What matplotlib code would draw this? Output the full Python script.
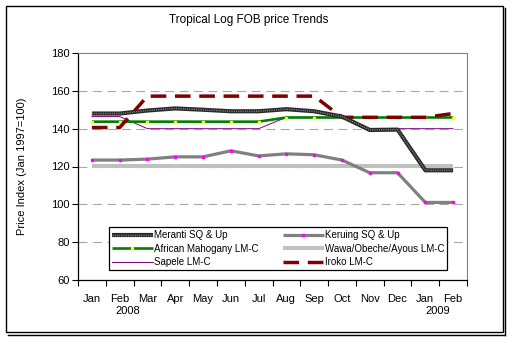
import matplotlib
matplotlib.use("Agg")
import matplotlib.pyplot as plt
from matplotlib.legend_handler import HandlerTuple
from matplotlib.patches import Rectangle
from matplotlib.lines import Line2D

plt.rcParams['font.family'] = ['Liberation Sans', 'DejaVu Sans']

months = ["Jan", "Feb", "Mar", "Apr", "May", "Jun", "Jul", "Aug", "Sep", "Oct", "Nov", "Dec", "Jan", "Feb"]
years = ["2008", "2009"]

meranti = [148, 148, 149.6, 150.7, 150, 149.2, 149.2, 150.3, 149.2, 146.4, 139.3, 139.5, 118, 118]
keruing = [123.4, 123.4, 123.9, 125.1, 125.1, 128.3, 125.6, 126.7, 126.2, 123.4, 116.7, 116.7, 101, 101]
mahogany = [143.7, 143.7, 143.7, 143.7, 143.7, 143.7, 143.7, 145.9, 145.9, 145.9, 145.9, 145.9, 145.9, 145.9]
wawa = [120.5] * 14
sapele = [146.4, 146.4, 140, 140, 140, 140, 140, 146, 146, 146, 140, 140, 140, 140]
iroko = [140.6, 140.6, 157.2, 157.2, 157.2, 157.2, 157.2, 157.2, 157.2, 146, 146, 146, 146, 148]

fig = plt.figure(figsize=(5.29, 3.43), dpi=100)
ax = fig.add_axes([78/529, 1-280/343, (467-78)/529, (280-53)/343])

x = list(range(len(months)))

l_wawa, = ax.plot(x, wawa, color='#C0C0C0', lw=2.9, zorder=2, solid_capstyle='butt')
l_ker, = ax.plot(x, keruing, color='#808080', lw=2.3, zorder=3, marker='s', ms=1.4,
                 mfc='#FF00FF', mec='#FF00FF', solid_capstyle='butt')
l_sap, = ax.plot(x, sapele, color='#800080', lw=0.7, zorder=3)
l_mah, = ax.plot(x, mahogany, color='#008000', lw=1.9, zorder=4, marker='s', ms=1.4,
                 mfc='#FFFF00', mec='#FFFF00', solid_capstyle='butt')
l_iro, = ax.plot(x, iroko, color='#800000', lw=2.5, zorder=5, linestyle=(0, (4.5, 2.5)))
l_mer1, = ax.plot(x, meranti, color='#2a2a2a', lw=3.0, zorder=6, solid_capstyle='butt')
l_mer2, = ax.plot(x, meranti, color='#8a8a8a', lw=1.0, zorder=7, linestyle=(0, (0.7, 0.9)))

ax.set_xlim(-0.5, len(months) - 0.5)
ax.set_ylim(60, 180)
ax.set_yticks(range(60, 181, 20))
ax.set_xticks(x)
ax.set_xticklabels(months)
ax.set_xticks([i - 0.5 for i in range(len(months) + 1)], minor=True)
ax.tick_params(axis='x', which='major', length=0, pad=10, labelsize=8)
ax.tick_params(axis='x', which='minor', length=4, direction='out', width=0.8)
ax.tick_params(axis='y', length=4, direction='out', width=0.8, labelsize=8, pad=2)

for v in range(80, 180, 20):
    ax.axhline(v, color='#A8A8A8', lw=0.8, linestyle=(0, (8, 5)), zorder=1)

for s in ['left', 'bottom']:
    ax.spines[s].set_color('black')
    ax.spines[s].set_linewidth(0.9)
for s in ['top', 'right']:
    ax.spines[s].set_color('#808080')
    ax.spines[s].set_linewidth(0.8)

# year labels
fig.text(128/529, 1-311.5/343, years[0], ha='center', va='center', fontsize=8)
fig.text(438/529, 1-311.5/343, years[1], ha='center', va='center', fontsize=8)

fig.text(249/529, 1-20.5/343, "Tropical Log FOB price Trends", ha='center', va='center', fontsize=8.5)
fig.text(22/529, 1-166/343, "Price Index (Jan 1997=100)", rotation=90, ha='center', va='center', fontsize=8)

# legend filled column-wise, so order gives rows: Meranti|Keruing, Mahogany|Wawa, Sapele|Iroko
handles = [(l_mer1, l_mer2), l_mah, l_sap, l_ker, l_wawa, l_iro]
labels = ["Meranti SQ & Up", "African Mahogany LM-C", "Sapele LM-C",
          "Keruing SQ & Up", "Wawa/Obeche/Ayous LM-C", "Iroko LM-C"]
leg = fig.legend(handles, labels, loc='lower left',
                 bbox_to_anchor=(109/529, 1-270/343, (447-109)/529, (270-223)/343),
                 mode='expand', ncol=2, fontsize=7, frameon=True, fancybox=False,
                 edgecolor='black', framealpha=1, handlelength=4.2, handletextpad=0.1,
                 borderaxespad=0, borderpad=0.3, labelspacing=0.35, columnspacing=1.0,
                 handler_map={tuple: HandlerTuple(ndivide=1, pad=0)})
leg.get_frame().set_linewidth(0.9)

# outer frame with shadow
fig.patches.append(Rectangle((6/529, 1-332/343), (503-6)/529, (332-6)/343,
                             transform=fig.transFigure, fill=False, edgecolor='black', lw=1.0))
fig.lines.append(Line2D([8/529, 505/529], [1-334.5/343, 1-334.5/343], transform=fig.transFigure,
                        color='black', lw=1.0))
fig.lines.append(Line2D([505/529, 505/529], [1-334.5/343, 1-8/343], transform=fig.transFigure,
                        color='black', lw=1.0))

fig.savefig("out.png", dpi=100)
